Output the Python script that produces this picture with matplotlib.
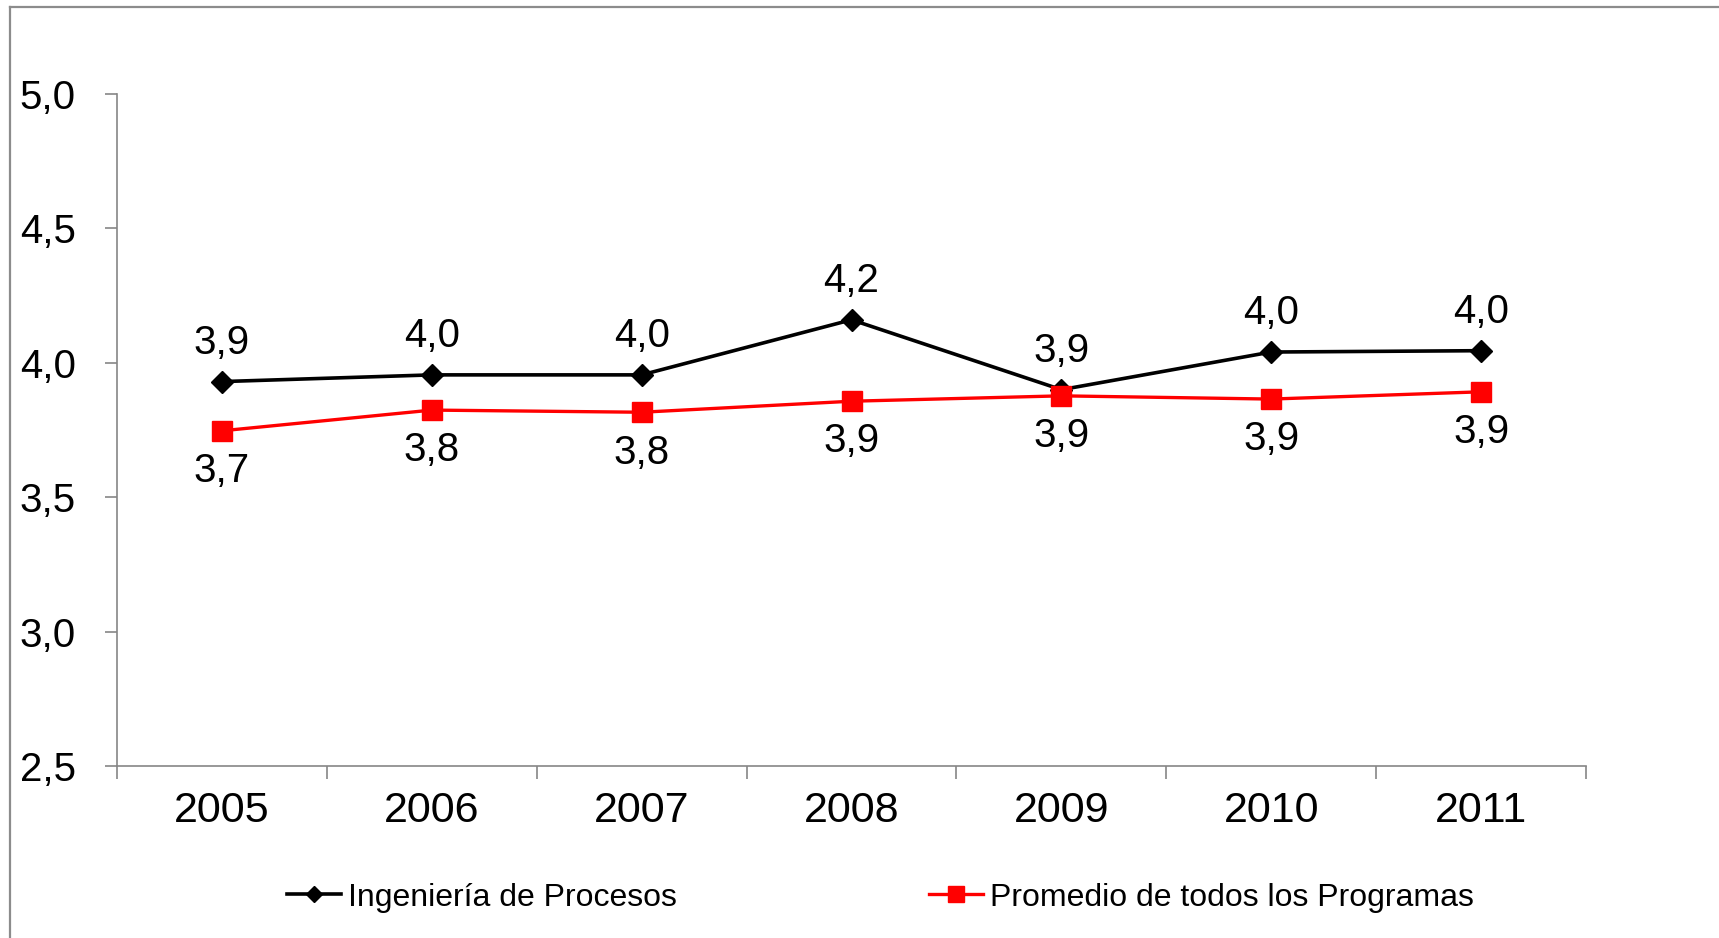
import numpy as np
import matplotlib.pyplot as plt
from matplotlib.lines import Line2D

plt.rcParams['font.family'] = ['Liberation Sans', 'DejaVu Sans']

anios = ["2005", "2006", "2007", "2008", "2009", "2010", "2011"]
ingenieria = [3.93, 3.955, 3.955, 4.16, 3.90, 4.04, 4.045]
promedio = [3.747, 3.824, 3.816, 3.857, 3.877, 3.865, 3.892]
yticks = [2.5, 3.0, 3.5, 4.0, 4.5, 5.0]

fig = plt.figure(figsize=(17.19, 9.38), dpi=100)
ax = fig.add_axes([0.0681, 0.1834, 0.8545, 0.7164])

x = np.arange(len(anios))
ax.plot(x, ingenieria, "-", color="black", lw=2.6, marker="D", ms=11,
        label="Ingeniería de Procesos")
ax.plot(x, promedio, "-", color="#ff0000", lw=2.4, marker="s", ms=15,
        label="Promedio de todos los Programas")

for xi, v in zip(x, ingenieria):
    ax.annotate(("%.1f" % v).replace(".", ","), (xi, v), xytext=(0, 28),
                textcoords="offset points", ha="center", va="center", fontsize=29)
for xi, v in zip(x, promedio):
    ax.annotate(("%.1f" % v).replace(".", ","), (xi, v), xytext=(0, -29),
                textcoords="offset points", ha="center", va="center", fontsize=29)

ax.set_xlim(-0.5, len(anios) - 0.5)
ax.set_ylim(2.5, 5.0)
ax.set_yticks(yticks)
ax.set_yticklabels([("%.1f" % t).replace(".", ",") for t in yticks], fontsize=29)
ax.set_xticks(x)
ax.set_xticklabels(anios, fontsize=31)
ax.set_xticks(np.arange(len(anios) + 1) - 0.5, minor=True)
ax.tick_params(axis="x", which="major", length=0, pad=18)
ax.tick_params(axis="x", which="minor", length=9, color="#868686", width=1.2)
ax.tick_params(axis="y", length=9, color="#868686", width=1.2, pad=61)
for lab in ax.get_yticklabels():
    lab.set_horizontalalignment("left")
ax.spines["top"].set_visible(False)
ax.spines["right"].set_visible(False)
ax.spines["left"].set_color("#868686")
ax.spines["bottom"].set_color("#868686")
ax.spines["left"].set_linewidth(1.2)
ax.spines["bottom"].set_linewidth(1.2)

fig.legend(loc="center", bbox_to_anchor=(0.512, 0.043), ncol=2, frameon=False,
           fontsize=23, handlelength=1.7, handletextpad=0.2, columnspacing=7.9,
           markerscale=0.75)

# marco gris del grafico
fig.add_artist(Line2D([10 / 1719, 10 / 1719], [0, 1 - 7 / 938], color="#8c8c8c", lw=1.6))
fig.add_artist(Line2D([10 / 1719, 1], [1 - 7 / 938, 1 - 7 / 938], color="#8c8c8c", lw=1.6))

plt.savefig("out.png", dpi=100)
